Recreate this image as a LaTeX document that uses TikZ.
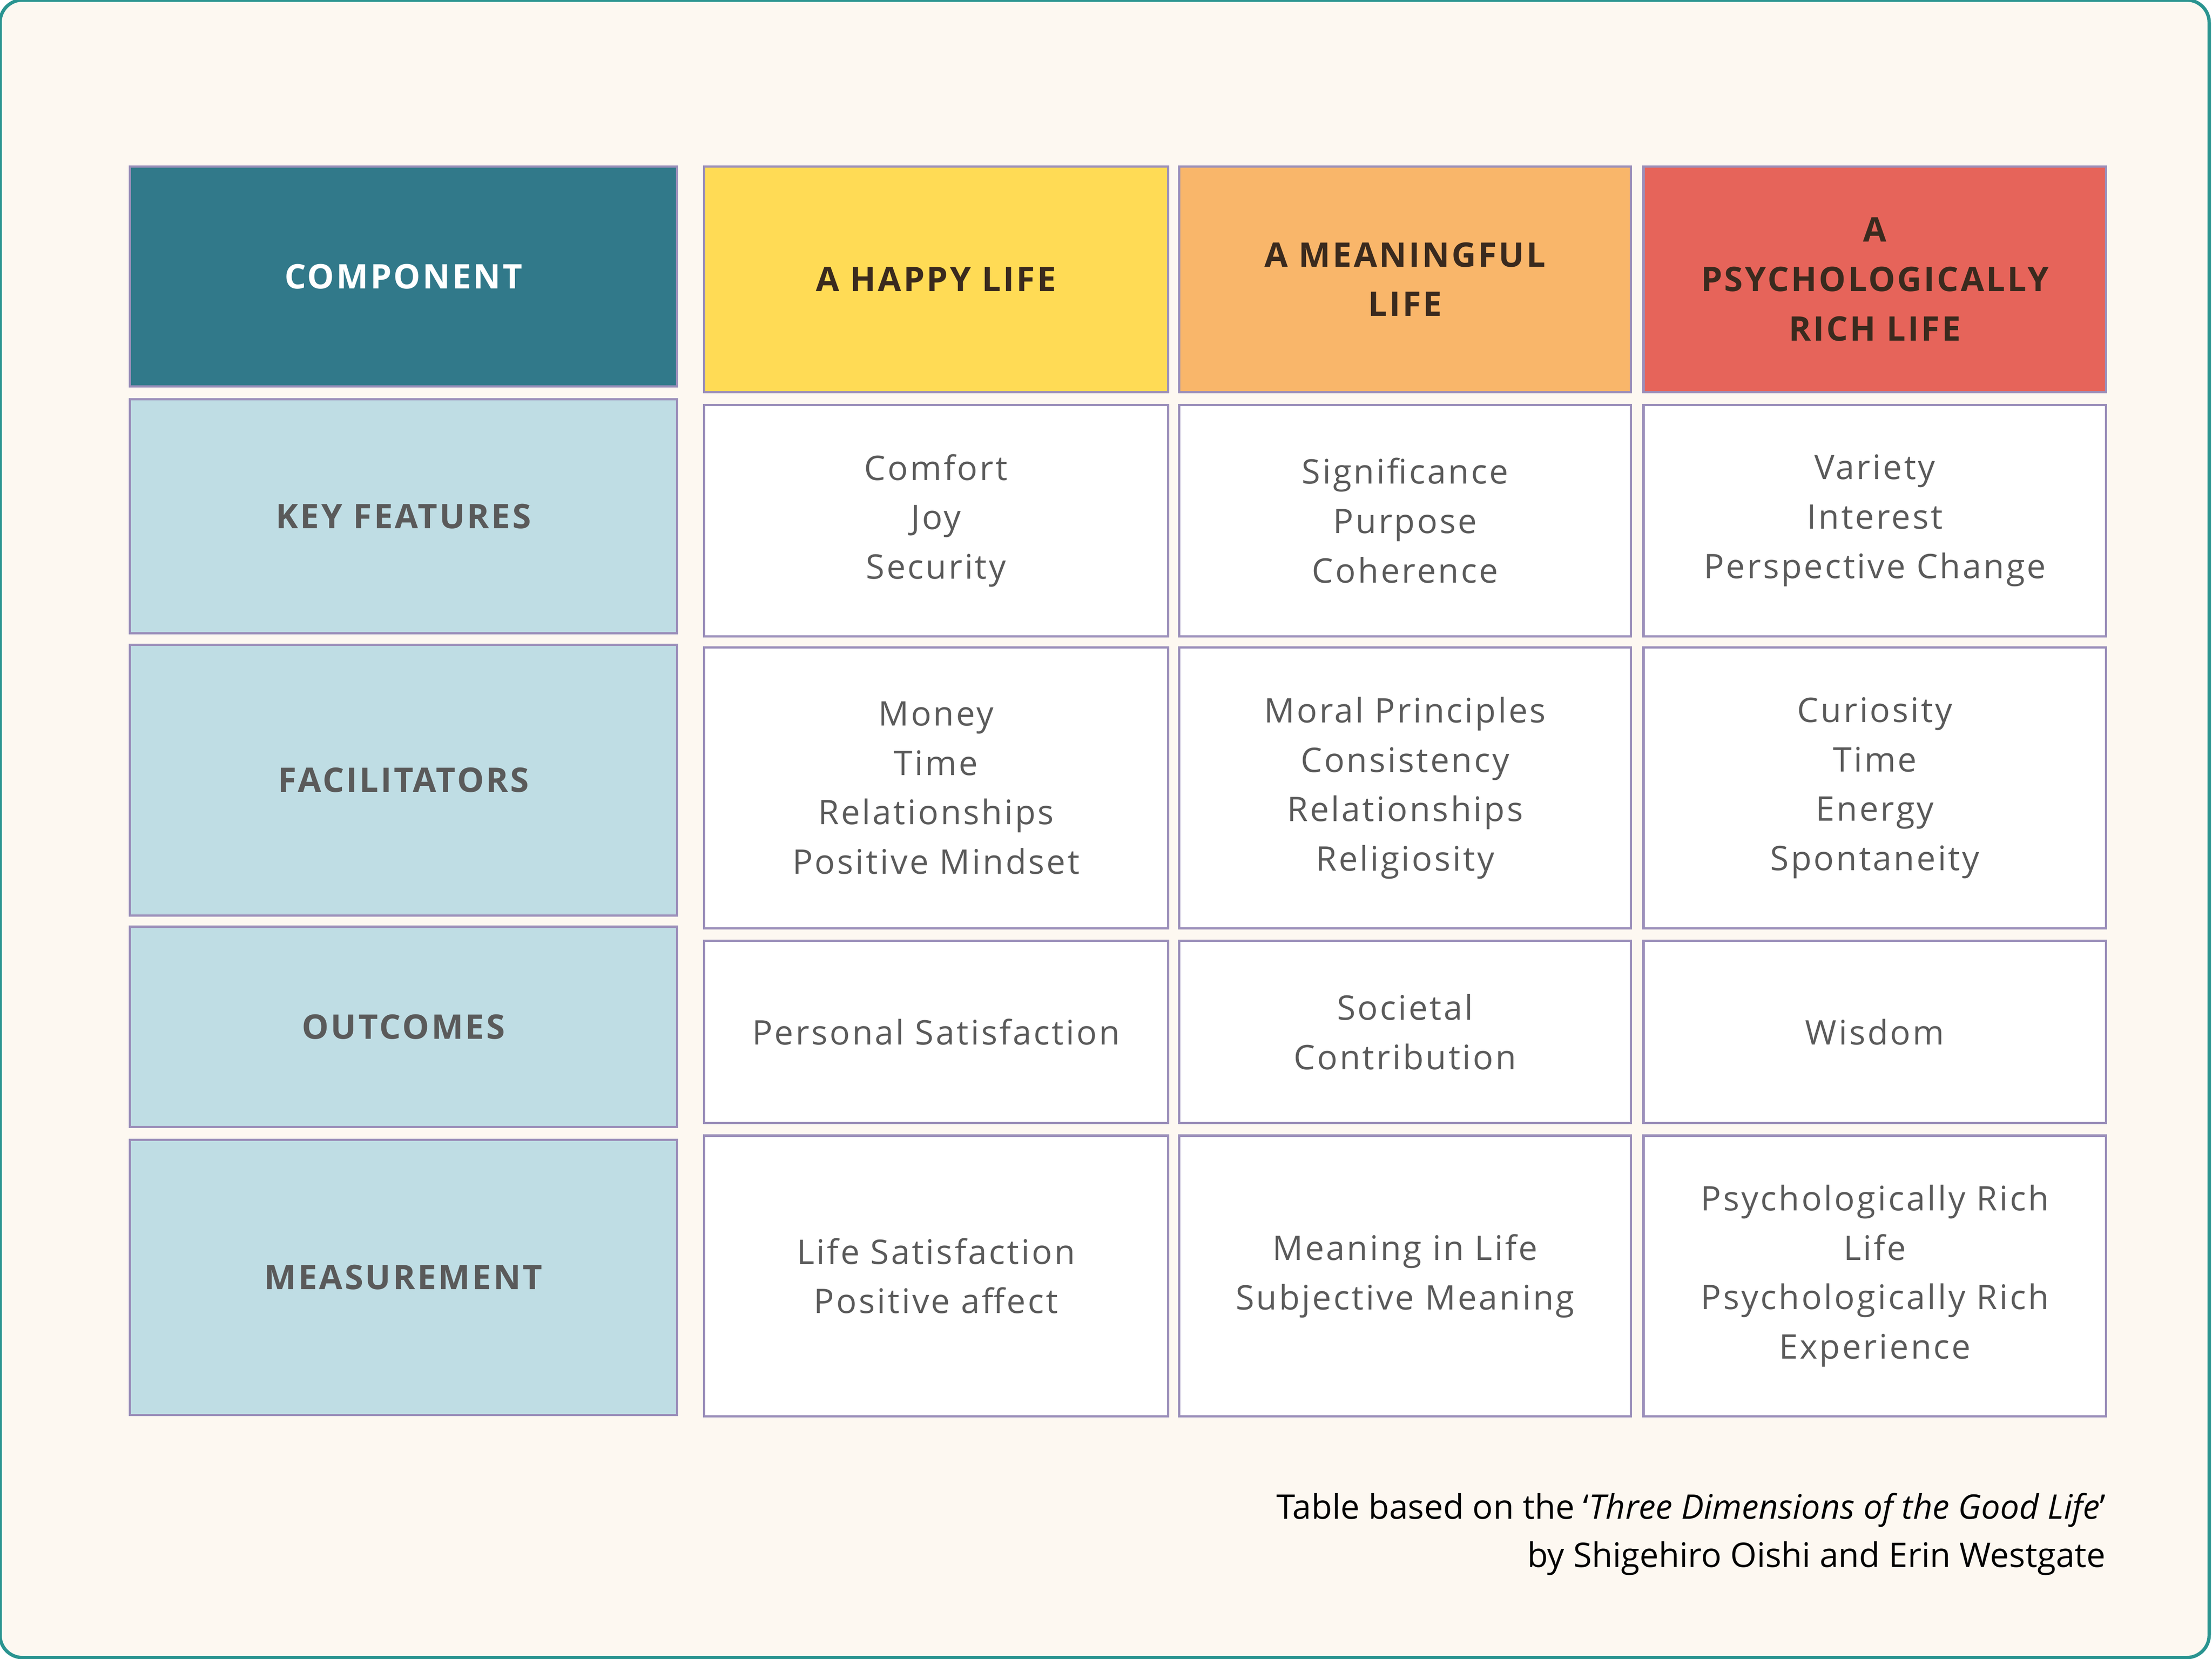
\documentclass[tikz,border=0pt]{standalone}
\usepackage{fontspec}
\setmainfont{Open Sans}
\newfontfamily\cellfont[LetterSpace=6]{Open Sans}
\newfontfamily\capfont{Open Sans}
\definecolor{bg}{HTML}{FDF8F1}
\definecolor{frame}{HTML}{2A9490}
\definecolor{teal}{HTML}{31798A}
\definecolor{yel}{HTML}{FFDB55}
\definecolor{ora}{HTML}{F9B66A}
\definecolor{red}{HTML}{E6645A}
\definecolor{lblue}{HTML}{BFDDE4}
\definecolor{txt}{HTML}{5A5A5A}
\definecolor{hdtxt}{HTML}{3A2A1E}
\definecolor{edge}{HTML}{9B8FBA}
\tikzset{
  base/.style={draw=edge, line width=0.8pt, align=center, inner sep=0pt, font=\cellfont\fontsize{12}{17.5}\selectfont},
  cell/.style={base, fill=white, text=txt},
  side/.style={base, fill=lblue, text=txt, font=\cellfont\bfseries\fontsize{12}{17.5}\selectfont},
  head/.style={base, text=hdtxt, font=\cellfont\bfseries\fontsize{12}{17.5}\selectfont},
}
\begin{document}
\begin{tikzpicture}[x=0.5pt,y=-0.5pt]
\useasboundingbox (0,0) rectangle (1568,1176);
\draw[frame, fill=bg, line width=1.2pt, rounded corners=8pt] (0,0) rectangle (1566,1175);
% header
\node[head, fill=teal, text=white, minimum width=194pt, minimum height=78pt] (h0) at (286,196) {COMPONENT};
\node[head, fill=yel, minimum width=164.5pt, minimum height=80pt] (h1) at (663.5,198) {A HAPPY LIFE};
\node[head, fill=ora, minimum width=160pt, minimum height=80pt] (h2) at (996,198) {A MEANINGFUL\\LIFE};
\node[head, fill=red, minimum width=164pt, minimum height=80pt] (h3) at (1329,198) {A\\PSYCHOLOGICALLY\\RICH LIFE};
% key features
\node[side, minimum width=194pt, minimum height=83pt] (s1) at (286,366) {KEY FEATURES};
\node[cell, minimum width=164.5pt, minimum height=82pt] (a1) at (663.5,369) {Comfort\\Joy\\Security};
\node[cell, minimum width=160pt, minimum height=82pt] (b1) at (996,369) {Significance\\Purpose\\Coherence};
\node[cell, minimum width=164pt, minimum height=82pt] (c1) at (1329,369) {Variety\\Interest\\Perspective Change};
% facilitators
\node[side, minimum width=194pt, minimum height=96pt] (s2) at (286,553) {FACILITATORS};
\node[cell, minimum width=164.5pt, minimum height=99.5pt] (a2) at (663.5,558.5) {Money\\Time\\Relationships\\Positive Mindset};
\node[cell, minimum width=160pt, minimum height=99.5pt] (b2) at (996,558.5) {Moral Principles\\Consistency\\Relationships\\Religiosity};
\node[cell, minimum width=164pt, minimum height=99.5pt] (c2) at (1329,558.5) {Curiosity\\Time\\Energy\\Spontaneity};
% outcomes
\node[side, minimum width=194pt, minimum height=71pt] (s3) at (286,728) {OUTCOMES};
\node[cell, minimum width=164.5pt, minimum height=64.5pt] (a3) at (663.5,731.5) {Personal Satisfaction};
\node[cell, minimum width=160pt, minimum height=64.5pt] (b3) at (996,731.5) {Societal\\Contribution};
\node[cell, minimum width=164pt, minimum height=64.5pt] (c3) at (1329,731.5) {Wisdom};
% measurement
\node[side, minimum width=194pt, minimum height=97.5pt] (s4) at (286,905.5) {MEASUREMENT};
\node[cell, minimum width=164.5pt, minimum height=99.5pt] (a4) at (663.5,904.5) {Life Satisfaction\\Positive affect};
\node[cell, minimum width=160pt, minimum height=99.5pt] (b4) at (996,904.5) {Meaning in Life\\Subjective Meaning};
\node[cell, minimum width=164pt, minimum height=99.5pt] (c4) at (1329,904.5) {Psychologically Rich\\Life\\Psychologically Rich\\Experience};
% caption
\node[anchor=north east, align=right, inner sep=0pt, font=\capfont\fontsize{12}{17}\selectfont] (cap) at (1493,1058) {Table based on the ‘\textit{Three Dimensions of the Good Life}’\\by Shigehiro Oishi and Erin Westgate};
\end{tikzpicture}
\end{document}
